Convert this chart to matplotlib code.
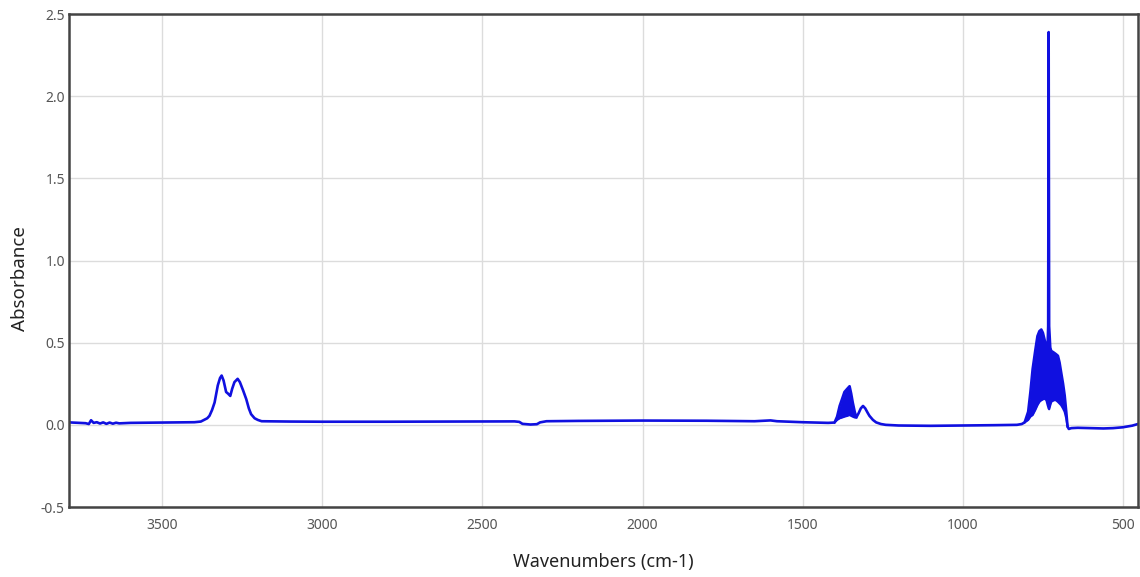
import numpy as np
import matplotlib
matplotlib.use("Agg")
import matplotlib.pyplot as plt

# IR absorbance spectrum: wavenumber (cm-1) and absorbance along the trace
wavenumber = [
    3792, 3760, 3740, 3730, 3723, 3715, 3705, 3695, 3685, 3675, 3665, 3655,
    3645, 3635, 3600, 3500, 3400, 3380, 3360, 3353, 3345, 3337, 3327, 3320,
    3315, 3309, 3301, 3295, 3288, 3282, 3275, 3265, 3258, 3248, 3238, 3230,
    3223, 3212, 3202, 3190, 3100, 3000, 2800, 2600, 2400, 2385, 2375, 2350,
    2330, 2320, 2300, 2200, 2000, 1800, 1650, 1620, 1600, 1580, 1500, 1420,
    1400, 1392, 1384, 1376, 1369, 1360, 1353, 1348, 1343, 1337, 1332, 1325,
    1318, 1311, 1304, 1297, 1291, 1280, 1270, 1255, 1240, 1200, 1100, 1000,
    900, 830, 815, 806, 795, 788, 781, 773, 766, 760, 754, 749, 744, 738,
    734, 732.5, 731, 729.5, 726, 723, 715, 708, 702, 697, 692, 686, 681,
    676, 672, 668, 660, 640, 600, 560, 530, 500, 470, 452,
]
absorbance = [
    0.015, 0.012, 0.010, 0.005, 0.028, 0.012, 0.016, 0.008, 0.015, 0.006, 0.014, 0.007,
    0.013, 0.009, 0.012, 0.014, 0.016, 0.020, 0.040, 0.055, 0.090, 0.136, 0.240, 0.285,
    0.300, 0.270, 0.200, 0.190, 0.176, 0.220, 0.260, 0.280, 0.260, 0.210, 0.156, 0.100,
    0.065, 0.040, 0.030, 0.022, 0.020, 0.019, 0.019, 0.020, 0.021, 0.018, 0.006, 0.002,
    0.004, 0.015, 0.022, 0.024, 0.026, 0.025, 0.022, 0.025, 0.027, 0.022, 0.016, 0.012,
    0.014, 0.050, 0.115, 0.160, 0.200, 0.220, 0.235, 0.190, 0.135, 0.080, 0.045, 0.070,
    0.100, 0.115, 0.100, 0.075, 0.055, 0.030, 0.015, 0.005, 0.000, -0.004, -0.006, -0.004,
    -0.002, 0.000, 0.005, 0.015, 0.080, 0.200, 0.340, 0.450, 0.540, 0.570, 0.580, 0.560, 0.520, 0.470,
    0.500, 0.600, 2.390, 0.600, 0.470, 0.450, 0.440, 0.430, 0.420, 0.380, 0.320, 0.250, 0.180,
    0.080, -0.010, -0.025, -0.020, -0.018, -0.020, -0.022, -0.020, -0.015, -0.005, 0.005,
]

# Envelopes of the densely oscillating fringe bands
band1_wn = [1400, 1392, 1384, 1376, 1369, 1360, 1353, 1348, 1343, 1337, 1332]
band1_low = [0.014, 0.030, 0.040, 0.045, 0.050, 0.055, 0.060, 0.055, 0.050, 0.045, 0.045]
band1_high = [0.014, 0.050, 0.115, 0.160, 0.200, 0.220, 0.235, 0.190, 0.135, 0.080, 0.045]

band2_wn = [806, 795, 788, 781, 773, 766, 760, 754, 749, 744, 738, 734, 731,
            729.5, 726, 723, 715, 708, 702, 697, 692, 686, 681, 676, 672]
band2_low = [0.015, 0.030, 0.050, 0.060, 0.090, 0.120, 0.140, 0.150, 0.155, 0.160, 0.150,
             0.120, 0.100, 0.095, 0.120, 0.140, 0.150, 0.150, 0.140, 0.130, 0.120, 0.100,
             0.080, 0.040, -0.010]
band2_high = [0.015, 0.080, 0.200, 0.340, 0.450, 0.540, 0.570, 0.580, 0.560, 0.520, 0.470,
              0.500, 0.500, 0.500, 0.470, 0.450, 0.440, 0.430, 0.420, 0.380, 0.320, 0.250,
              0.180, 0.080, -0.010]

x_ticks = [3500, 3000, 2500, 2000, 1500, 1000, 500]
y_ticks = [-0.5, 0.0, 0.5, 1.0, 1.5, 2.0, 2.5]

line_color = "#1010e0"

plt.rcParams["font.family"] = ["Noto Sans", "DejaVu Sans"]

fig = plt.figure(figsize=(11.4, 5.77), dpi=100)
ax = fig.add_axes([0.0605, 0.1213, 0.9377, 0.8544])

ax.fill_between(band1_wn, band1_low, band1_high, color=line_color, lw=0)
ax.plot(band1_wn, band1_low, color=line_color, lw=1.6)
ax.fill_between(band2_wn, band2_low, band2_high, color=line_color, lw=0)
ax.plot(band2_wn, band2_low, color=line_color, lw=1.6)
ax.plot(wavenumber, absorbance, color=line_color, lw=1.9, solid_joinstyle="round")

ax.set_xlim(3792, 452)
ax.set_ylim(-0.5, 2.5)
ax.set_xticks(x_ticks)
ax.set_yticks(y_ticks)
ax.set_yticklabels([f"{v:.1f}" for v in y_ticks])
ax.tick_params(length=0, labelsize=10, labelcolor="#555555")
ax.tick_params(axis="x", pad=8)
ax.tick_params(axis="y", pad=3)
ax.grid(True, color="#dcdcdc", lw=1.0)
ax.set_axisbelow(True)
for s in ax.spines.values():
    s.set_color("#444444")
    s.set_linewidth(1.8)

ax.set_xlabel("Wavenumbers (cm-1)", fontsize=13, color="#222222", labelpad=14)
ax.set_ylabel("Absorbance", fontsize=13.5, color="#222222")
ax.yaxis.set_label_coords(-0.0375, 0.4625)

fig.savefig("out.png", dpi=100, facecolor="white")
